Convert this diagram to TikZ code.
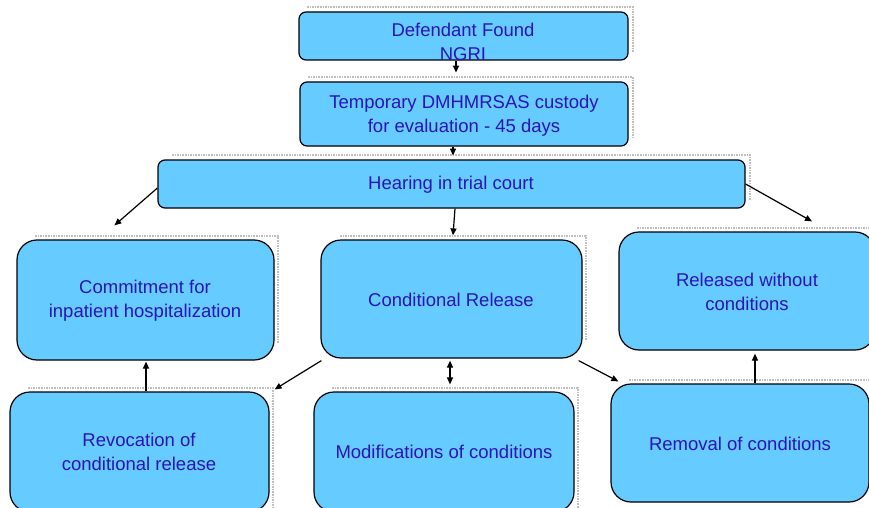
\documentclass[tikz,border=0pt]{standalone}
\usepackage{fontspec}
\setmainfont{Liberation Sans}
\usetikzlibrary{arrows.meta,calc}
\definecolor{boxfill}{HTML}{66CCFF}
\definecolor{txtblue}{RGB}{43,20,185}
\tikzset{
  box/.style={draw=black,line width=1.2pt,fill=boxfill,rounded corners=7pt,inner sep=0pt},
  bigbox/.style={box,rounded corners=20pt},
  txt/.style={text=txtblue,align=center,font=\fontsize{18.5}{24}\selectfont,inner sep=0pt},
  arr/.style={line width=1.2pt,-{Triangle[length=7pt,width=6pt]}},
  darr/.style={line width=1.2pt,{Triangle[length=7pt,width=6pt]}-{Triangle[length=7pt,width=6pt]}},
  shad/.style={draw=gray!50,densely dotted,line width=1.6pt}
}
\begin{document}
\begin{tikzpicture}[x=1pt,y=-1pt]
\useasboundingbox (0,0) rectangle (869,508);
\fill[white] (0,0) rectangle (869,508);
% dotted shadows
\draw[shad] (307,7) -- (633,7) -- (633,52);
\draw[shad] (308,77) -- (633,77) -- (633,138);
\draw[shad] (172,155) -- (750,155) -- (750,200);
\draw[shad] (35,236) -- (278,236) -- (278,343);
\draw[shad] (340,236) -- (586,236) -- (586,341);
\draw[shad] (637,228) -- (874,228) -- (874,333);
\draw[shad] (28,388) -- (273,388) -- (273,508);
\draw[shad] (332,388) -- (578,388) -- (578,508);
\draw[shad] (629,380) -- (874,380) -- (874,485);
% boxes
\node[box,minimum width=329pt,minimum height=48pt] (b1) at (463.5,36) {};
\node[txt] (t1) at (463,42) {Defendant Found\\NGRI};
\node[box,minimum width=328pt,minimum height=64pt] (b2) at (464,114) {};
\node[txt] (t2) at (464,115.5) {Temporary DMHMRSAS custody\\for evaluation - 45 days};
\node[box,minimum width=587pt,minimum height=48pt] (b3) at (451.5,184) {};
\node[txt] (t3) at (451,184.5) {Hearing in trial court};
\node[bigbox,minimum width=257pt,minimum height=120pt] (b4) at (145.5,300) {};
\node[txt] (t4) at (145,301) {Commitment for\\inpatient hospitalization};
\node[bigbox,minimum width=261pt,minimum height=118pt] (b5) at (451.5,299) {};
\node[txt] (t5) at (451,299.5) {Conditional Release};
\node[bigbox,minimum width=256pt,minimum height=118pt] (b6) at (747,291) {};
\node[txt] (t6) at (747,292) {Released without\\conditions};
\node[bigbox,minimum width=259pt,minimum height=120pt] (b7) at (139.5,452) {};
\node[txt] (t7) at (139,452) {Revocation of\\conditional release};
\node[bigbox,minimum width=260pt,minimum height=120pt] (b8) at (444,452) {};
\node[txt] (t8) at (444,451.5) {Modifications of conditions};
\node[bigbox,minimum width=258pt,minimum height=118pt] (b9) at (740,443) {};
\node[txt] (t9) at (740,443.5) {Removal of conditions};
% connectors
\draw[arr] ($(b1.south)+(-7.5,0)$) -- ++(0,12);
\draw[arr] ($(b2.south)+(-11,0)$) -- ++(0,9);
\draw[arr] ($(b3.west)+(0,4)$) -- ($(b4.north west)+(98,-14)$);
\draw[arr] ($(b3.south)+(3.5,0)$) -- ($(b5.north)+(1.5,-4)$);
\draw[arr] ($(b3.east)+(0,0)$) -- ($(b6.north)+(65,-10)$);
\draw[darr] ($(b5.south)+(-1.5,2)$) -- ($(b8.north)+(6,-7)$);
\draw[arr] ($(b5.south west)+(1,2)$) -- ($(b7.north east)+(5,-2)$);
\draw[arr] ($(b5.south east)+(-4,2)$) -- ($(b9.north west)+(8,-2)$);
\draw[arr] ($(b9.north)+(15,0)$) -- ($(b6.south)+(8,3)$);
\draw[arr] ($(b7.north)+(6.5,0)$) -- ($(b4.south)+(0.5,1)$);
\end{tikzpicture}
\end{document}
